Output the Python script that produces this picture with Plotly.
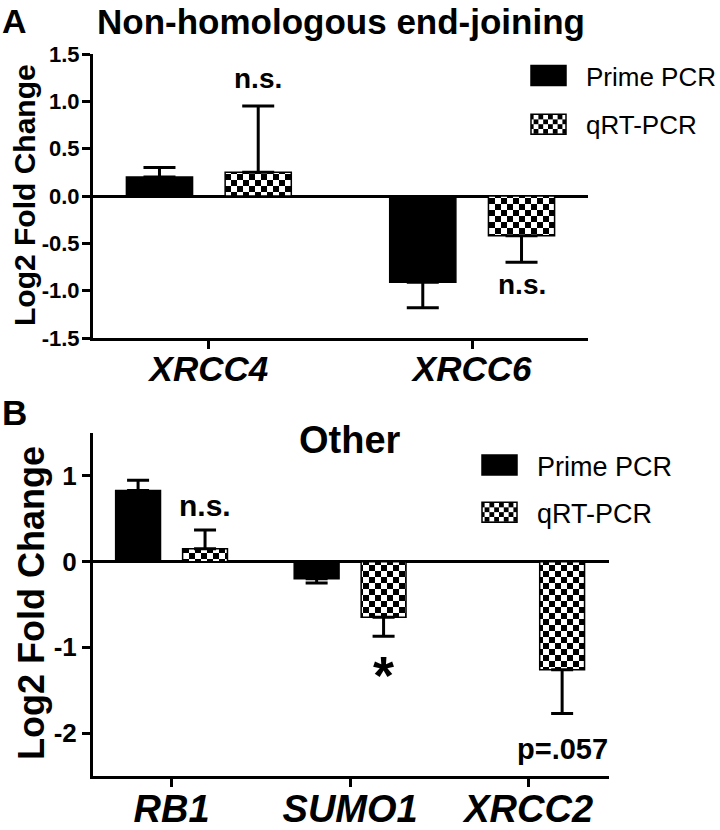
import plotly.graph_objects as go

FONT = "Liberation Sans, Arial, sans-serif"

# panel A - non-homologous end-joining
genes_a = ["XRCC4", "XRCC6"]
prime_a = [0.20, -0.91]
prime_a_err = [0.10, 0.27]
qrt_a = [0.25, -0.42]
qrt_a_err = [0.70, 0.28]
yticks_a = [-1.5, -1.0, -0.5, 0.0, 0.5, 1.0, 1.5]
yticktext_a = ["-1.5", "-1.0", "-0.5", "0.0", "0.5", "1.0", "1.5"]

# panel B - other
genes_b = ["RB1", "SUMO1", "XRCC2"]
prime_b = [0.83, -0.20, None]
prime_b_err = [0.12, 0.05, None]
qrt_b = [0.15, -0.65, -1.26]
qrt_b_err = [0.22, 0.22, 0.51]
yticks_b = [-2, -1, 0, 1]
yticktext_b = ["-2", "-1", "0", "1"]

# significance labels: (panel, gene index, series side, text, y, size)
sig_labels = [
    ("a", 0, 1, "n.s.", 1.24, 28),
    ("a", 1, 1, "n.s.", -0.93, 28),
    ("b", 0, 1, "n.s.", 0.65, 30),
    ("b", 1, 1, "*", -1.32, 54),
    ("b", 2, 1, "p=.057", -2.18, 29),
]


def err_up(vals, errs):
    return [None if v is None else (e if v >= 0 else 0) for v, e in zip(vals, errs)]


def err_down(vals, errs):
    return [None if v is None else (e if v < 0 else 0) for v, e in zip(vals, errs)]


def bar(name, x, y, err, xa, ya, legend, checker, capw):
    marker = dict(color="black", line=dict(color="black", width=1.5))
    if checker:
        marker = dict(color="white", line=dict(color="black", width=1.5),
                      pattern=dict(shape=".", fgcolor="black", bgcolor="white",
                                   size=9, solidity=0.5))
    return go.Bar(
        name=name, x=x, y=y, xaxis=xa, yaxis=ya, legend=legend,
        legendgroup=name + legend, marker=marker,
        error_y=dict(type="data", symmetric=False, array=err_up(y, err),
                     arrayminus=err_down(y, err), color="black",
                     thickness=3, width=capw),
    )


fig = go.Figure()
fig.add_trace(bar("Prime PCR", genes_a, prime_a, prime_a_err, "x", "y", "legend", False, 16))
fig.add_trace(bar("qRT-PCR", genes_a, qrt_a, qrt_a_err, "x", "y", "legend", True, 16))
fig.add_trace(bar("Prime PCR", genes_b, prime_b, prime_b_err, "x2", "y2", "legend2", False, 11))
fig.add_trace(bar("qRT-PCR", genes_b, qrt_b, qrt_b_err, "x2", "y2", "legend2", True, 11))

axis_common = dict(showline=True, linecolor="black", linewidth=3, ticks="outside",
                   tickcolor="black", tickwidth=3, ticklen=8, showgrid=False,
                   zeroline=False)
zero = dict(zeroline=True, zerolinecolor="black", zerolinewidth=3)

fig.update_layout(
    width=720, height=830,
    margin=dict(l=0, r=0, t=0, b=0, autoexpand=False),
    paper_bgcolor="white", plot_bgcolor="white",
    font=dict(family=FONT, color="black"),
    barmode="group", bargap=0.25, bargroupgap=0.33,
    xaxis=dict(domain=[93 / 720, 588 / 720], anchor="y", range=[-0.44, 1.44],
               tickvals=genes_a, ticktext=[f"<b><i>{g}</i></b>" for g in genes_a],
               tickfont=dict(size=35), ticklabelstandoff=-10, **axis_common),
    yaxis=dict(domain=[1 - 338 / 830, 1 - 54 / 830], anchor="x", range=[-1.5, 1.5],
               tickvals=yticks_a, ticktext=[f"<b>{t}</b>" for t in yticktext_a],
               tickfont=dict(size=22), ticklabelstandoff=-2, **{**axis_common, **zero}),
    xaxis2=dict(domain=[93 / 720, 609 / 720], anchor="y2", range=[-0.44, 2.45],
                tickvals=genes_b, ticktext=[f"<b><i>{g}</i></b>" for g in genes_b],
                tickfont=dict(size=38), ticklabelstandoff=-11, **axis_common),
    yaxis2=dict(domain=[1 - 776 / 830, 1 - 433 / 830], anchor="x2", range=[-2.5, 1.5],
                tickvals=yticks_b, ticktext=[f"<b>{t}</b>" for t in yticktext_b],
                tickfont=dict(size=26), **{**axis_common, **zero}),
    legend=dict(x=510 / 720, y=1 - 52 / 830, xanchor="left", yanchor="top",
                font=dict(size=26), bgcolor="rgba(0,0,0,0)", itemwidth=66,
                traceorder="grouped", tracegroupgap=12),
    legend2=dict(x=461 / 720, y=1 - 441 / 830, xanchor="left", yanchor="top",
                 font=dict(size=27), bgcolor="rgba(0,0,0,0)", itemwidth=66,
                 traceorder="grouped", tracegroupgap=9),
)

annotations = [
    dict(text="<b>A</b>", x=0, y=1, xref="paper", yref="paper",
         xanchor="left", yanchor="top", font=dict(size=34)),
    dict(text="<b>B</b>", x=0, y=1 - 413 / 830, xref="paper", yref="paper",
         xanchor="left", yanchor="middle", font=dict(size=35)),
    dict(text="<b>Non-homologous end-joining</b>", x=341 / 720, y=1 - 21 / 830,
         xref="paper", yref="paper", xanchor="center", yanchor="middle",
         font=dict(size=35)),
    dict(text="<b>Other</b>", x=350 / 720, y=1 - 440 / 830,
         xref="paper", yref="paper", xanchor="center", yanchor="middle",
         font=dict(size=38)),
    dict(text="<b>Log2 Fold Change</b>", x=24 / 720, y=1 - 195 / 830,
         xref="paper", yref="paper", xanchor="center", yanchor="middle",
         textangle=-90, font=dict(size=30)),
    dict(text="<b>Log2 Fold Change</b>", x=31 / 720, y=1 - 603 / 830,
         xref="paper", yref="paper", xanchor="center", yanchor="middle",
         textangle=-90, font=dict(size=36)),
]

offset = (1 - 0.25) / 4
for panel, gi, side, text, yv, size in sig_labels:
    annotations.append(dict(
        text=f"<b>{text}</b>", x=gi + (offset if side else -offset), y=yv,
        xref="x" if panel == "a" else "x2", yref="y" if panel == "a" else "y2",
        xanchor="center", yanchor="middle", showarrow=False, font=dict(size=size)))

for a in annotations:
    a.setdefault("showarrow", False)
fig.update_layout(annotations=annotations)

# no page margin, bigger legend swatches and a real checkerboard fill
post = """
document.body.style.margin = '0';
document.body.style.overflow = 'hidden';
var gd = document.getElementById('{plot_id}');
function restyleSwatches() {
  gd.querySelectorAll('.legendpoints path').forEach(function (p) {
    p.setAttribute('d', 'M18,10H-17V-10H18Z');
  });
  gd.querySelectorAll('pattern').forEach(function (pt) {
    pt.setAttribute('width', '12');
    pt.setAttribute('height', '12');
    pt.innerHTML = '<rect width="12" height="12" fill="white"/>' +
      '<rect width="6" height="6" fill="black"/>' +
      '<rect x="6" y="6" width="6" height="6" fill="black"/>';
  });
}
restyleSwatches();
gd.on('plotly_afterplot', restyleSwatches);
"""

fig.write_html("out.html", post_script=post, config={"displayModeBar": False})
